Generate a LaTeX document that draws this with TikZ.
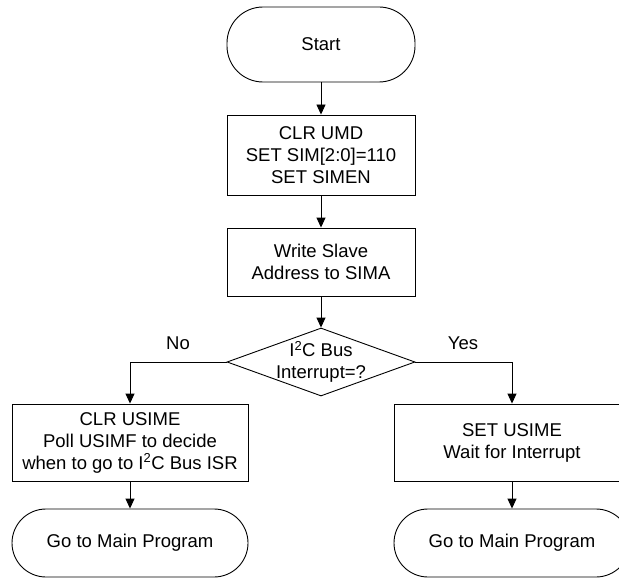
\documentclass[tikz,border=0pt]{standalone}
\usepackage{fontspec}
\setmainfont{Liberation Sans}
\usetikzlibrary{shapes.geometric,arrows.meta}
\begin{document}
\begin{tikzpicture}[x=1pt,y=-1pt,
  font=\fontsize{18.5}{22}\selectfont,
  box/.style={draw, line width=0.9pt, align=center, inner sep=0pt},
  term/.style={box, rounded corners=36pt},
  dec/.style={draw, line width=0.9pt, diamond, aspect=2.76, align=center, inner sep=-4pt, minimum width=188pt, minimum height=68pt},
  arr/.style={line width=0.9pt, -{Triangle[length=10pt,width=9pt]}},
  lbl/.style={inner sep=0pt}]
\useasboundingbox (0,0) rectangle (619,578);
\clip (0,0) rectangle (619,578);
\node[term, minimum width=188pt, minimum height=75pt] (start) at (321,44.5) {Start};
\node[box, minimum width=188pt, minimum height=80pt] (b1) at (321,155) {CLR UMD\\SET SIM[2:0]=110\\SET SIMEN};
\node[box, minimum width=188pt, minimum height=68pt] (b2) at (321,262) {Write Slave\\Address to SIMA};
\node[dec] (d) at (321,362) {I\textsuperscript{2}C Bus\\Interrupt=?};
\node[box, minimum width=236pt, minimum height=77pt] (l) at (130,442.5) {CLR USIME\\Poll USIMF to decide\\when to go to I\textsuperscript{2}C Bus ISR};
\node[box, minimum width=236pt, minimum height=77pt] (r) at (512,442.5) {SET USIME\\Wait for Interrupt};
\node[term, rounded corners=34pt, minimum width=236pt, minimum height=68pt] (le) at (130,543) {Go to Main Program};
\node[term, rounded corners=34pt, minimum width=236pt, minimum height=68pt] (re) at (512,543) {Go to Main Program};
\node[lbl] (no) at (178,343) {No};
\node[lbl] (yes) at (463,343) {Yes};
\draw[arr] (start) -- (b1);
\draw[arr] (b1) -- (b2);
\draw[arr] (b2) -- (d);
\draw[arr] (d.west) -| (l.north);
\draw[arr] (d.east) -| (r.north);
\draw[arr] (l) -- (le);
\draw[arr] (r) -- (re);
\end{tikzpicture}
\end{document}
